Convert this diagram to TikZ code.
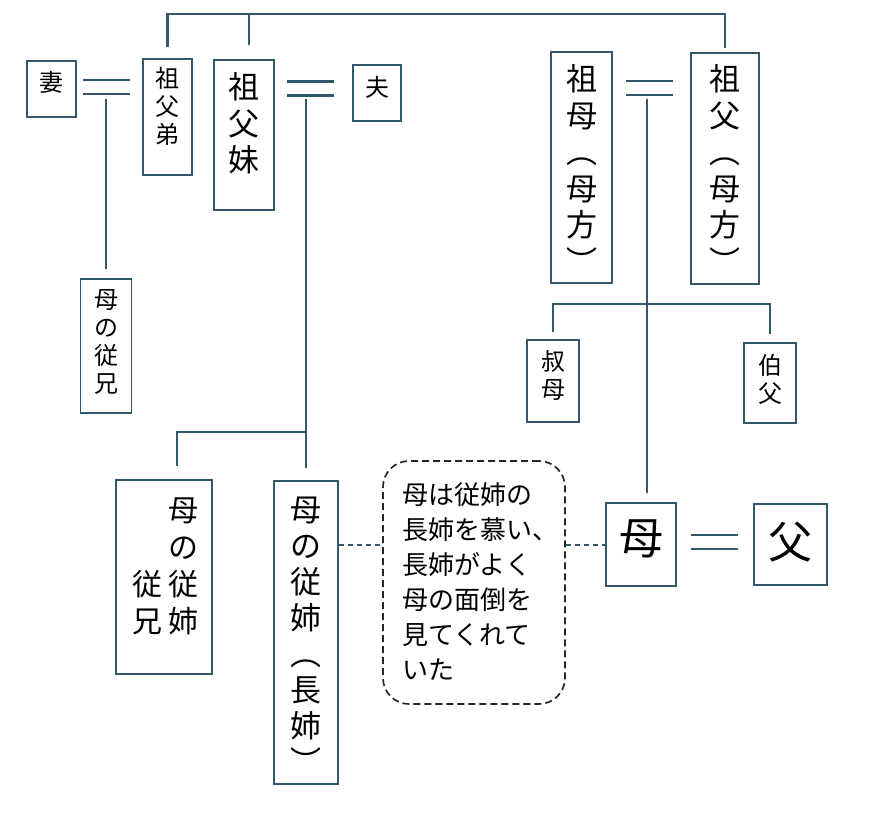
\documentclass[tikz,border=0pt]{standalone}
\usepackage{fontspec}
\setmainfont{Noto Sans CJK JP}
\usepackage{xcolor}
\usetikzlibrary{positioning}
\usetikzlibrary{calc}
\definecolor{linec}{HTML}{31596B}

\begin{document}
\begin{tikzpicture}[x=1pt, y=-1pt,
        box/.style={draw=linec, line width=1.1pt, inner sep=0pt},
        tate/.style={align=center, inner sep=0pt, anchor=north},
        fsmall/.style={font=\fontsize{24}{28}\selectfont},
        flarge/.style={font=\fontsize{31}{36.5}\selectfont},
        link/.style={draw=linec, line width=2.4pt},
        dlink/.style={draw=linec, line width=2pt, dash pattern=on 5pt off 4pt}]
            \useasboundingbox (0,0) rectangle (879,820);

            \node [box, minimum width=49, minimum height=56] (tsuma) at (51.5,89) {};
            \node [box, minimum width=49, minimum height=116] (sofutei) at (167.5,117) {};
            \node [box, minimum width=60, minimum height=150] (sofumai) at (244,135) {};
            \node [box, minimum width=48, minimum height=56] (otto) at (377,93) {};
            \node [box, minimum width=51, minimum height=134] (juukei) at (106,346) {};
            \node [box, minimum width=61, minimum height=231] (sobo) at (581.5,167.5) {};
            \node [box, minimum width=68, minimum height=231] (sofu) at (725,168.5) {};
            \node [box, minimum width=52, minimum height=82] (shukubo) at (553,381) {};
            \node [box, minimum width=52, minimum height=80] (hakufu) at (770,383) {};
            \node [box, minimum width=96, minimum height=194] (itoko) at (164,577) {};
            \node [box, minimum width=64, minimum height=303] (choushi) at (306,632.5) {};
            \node [draw=black!85, line width=1.7pt, dash pattern=on 7pt off 4pt,
                rounded corners=26pt, minimum width=182, minimum height=243] (memo) at (474,582.5) {};
            \node [box, minimum width=70, minimum height=83] (haha) at (641,544.5) {};
            \node [box, minimum width=73, minimum height=81] (chichi) at (790.5,544.5) {};

            \node [tate, fsmall] (tsuma-t) at ([yshift=-11pt]tsuma.north) {妻};
            \node [tate, fsmall] (sofutei-t) at ([yshift=-9pt]sofutei.north) {祖\\父\\弟};
            \node [tate, flarge] (sofumai-t) at ([yshift=-13pt]sofumai.north) {祖\\父\\妹};
            \node [tate, fsmall] (otto-t) at ([yshift=-12pt]otto.north) {夫};
            \node [tate, fsmall] (juukei-t) at ([yshift=-11pt]juukei.north) {母\\の\\従\\兄};
            \node [tate, flarge] (sobo-t) at ([yshift=-13pt]sobo.north) {祖\\母\\︵\\母\\方\\︶};
            \node [tate, flarge] (sofu-t) at ([yshift=-12pt]sofu.north) {祖\\父\\︵\\母\\方\\︶};
            \node [tate, fsmall] (shukubo-t) at ([yshift=-11pt]shukubo.north) {叔\\母};
            \node [tate, fsmall] (hakufu-t) at ([yshift=-12pt]hakufu.north) {伯\\父};
            \node [tate, font=\fontsize{30}{37}\selectfont] (itoko-t) at ([xshift=1pt,yshift=-17pt]itoko.north)
                {\phantom{従}\hspace{6pt}母\\\phantom{従}\hspace{6pt}の\\従\hspace{6pt}従\\兄\hspace{6pt}姉};
            \node [tate, font=\fontsize{31}{36}\selectfont] (choushi-t) at ([yshift=-16pt]choushi.north)
                {母\\の\\従\\姉\\︵\\長\\姉\\︶};
            \node [align=left, inner sep=0pt, anchor=north west, font=\fontsize{26}{35}\selectfont]
                (memo-t) at ([xshift=20pt,yshift=-22pt]memo.north west)
                {母は従姉の\\長姉を慕い、\\長姉がよく\\母の面倒を\\見てくれて\\いた};
            \node [tate, font=\fontsize{44}{50}\selectfont] (haha-t) at ([yshift=-17pt]haha.north) {母};
            \node [tate, font=\fontsize{44}{50}\selectfont] (chichi-t) at ([yshift=-18pt]chichi.north) {父};

            \coordinate (m1) at (106.5,87);
            \coordinate (m2) at (310.5,88.5);
            \coordinate (m3) at (649.5,88);
            \coordinate (m4) at (714,542);
            \coordinate (m1d) at (106,99);
            \coordinate (m2d) at (306,99);
            \coordinate (m3d) at (647,99);
            \coordinate (topbar) at (725,14);
            \coordinate (kids2) at (306,432);
            \coordinate (kids3) at (647,304);

            \foreach \m in {m1,m2,m3,m4} {
                \draw [link] ([shift={(-23.5,-7)}]\m) -- ++(47,0);
                \draw [link] ([shift={(-23.5,7)}]\m) -- ++(47,0);
            }

            \draw [link] ([yshift=11pt]sofutei.north) |- (topbar) -- ([yshift=4pt]sofu.north);
            \draw [link] ([xshift=5pt,yshift=14pt]sofumai.north) -- ++(0,-32);
            \draw [link] (m1d) -- ([yshift=9pt]juukei.north);
            \draw [link] (m2d) -- ([yshift=12pt]choushi.north);
            \draw [link] ([xshift=13pt,yshift=13pt]itoko.north) |- (kids2);
            \draw [link] (m3d) -- ([xshift=6pt,yshift=9pt]haha.north);
            \draw [link] ([yshift=7pt]shukubo.north) |- (kids3) -| ([yshift=8pt]hakufu.north);

            \draw [dlink] (choushi.east |- haha.west) -- (memo.west |- haha.west);
            \draw [dlink] (memo.east |- haha.west) -- (haha.west);

        \end{tikzpicture}
\end{document}
